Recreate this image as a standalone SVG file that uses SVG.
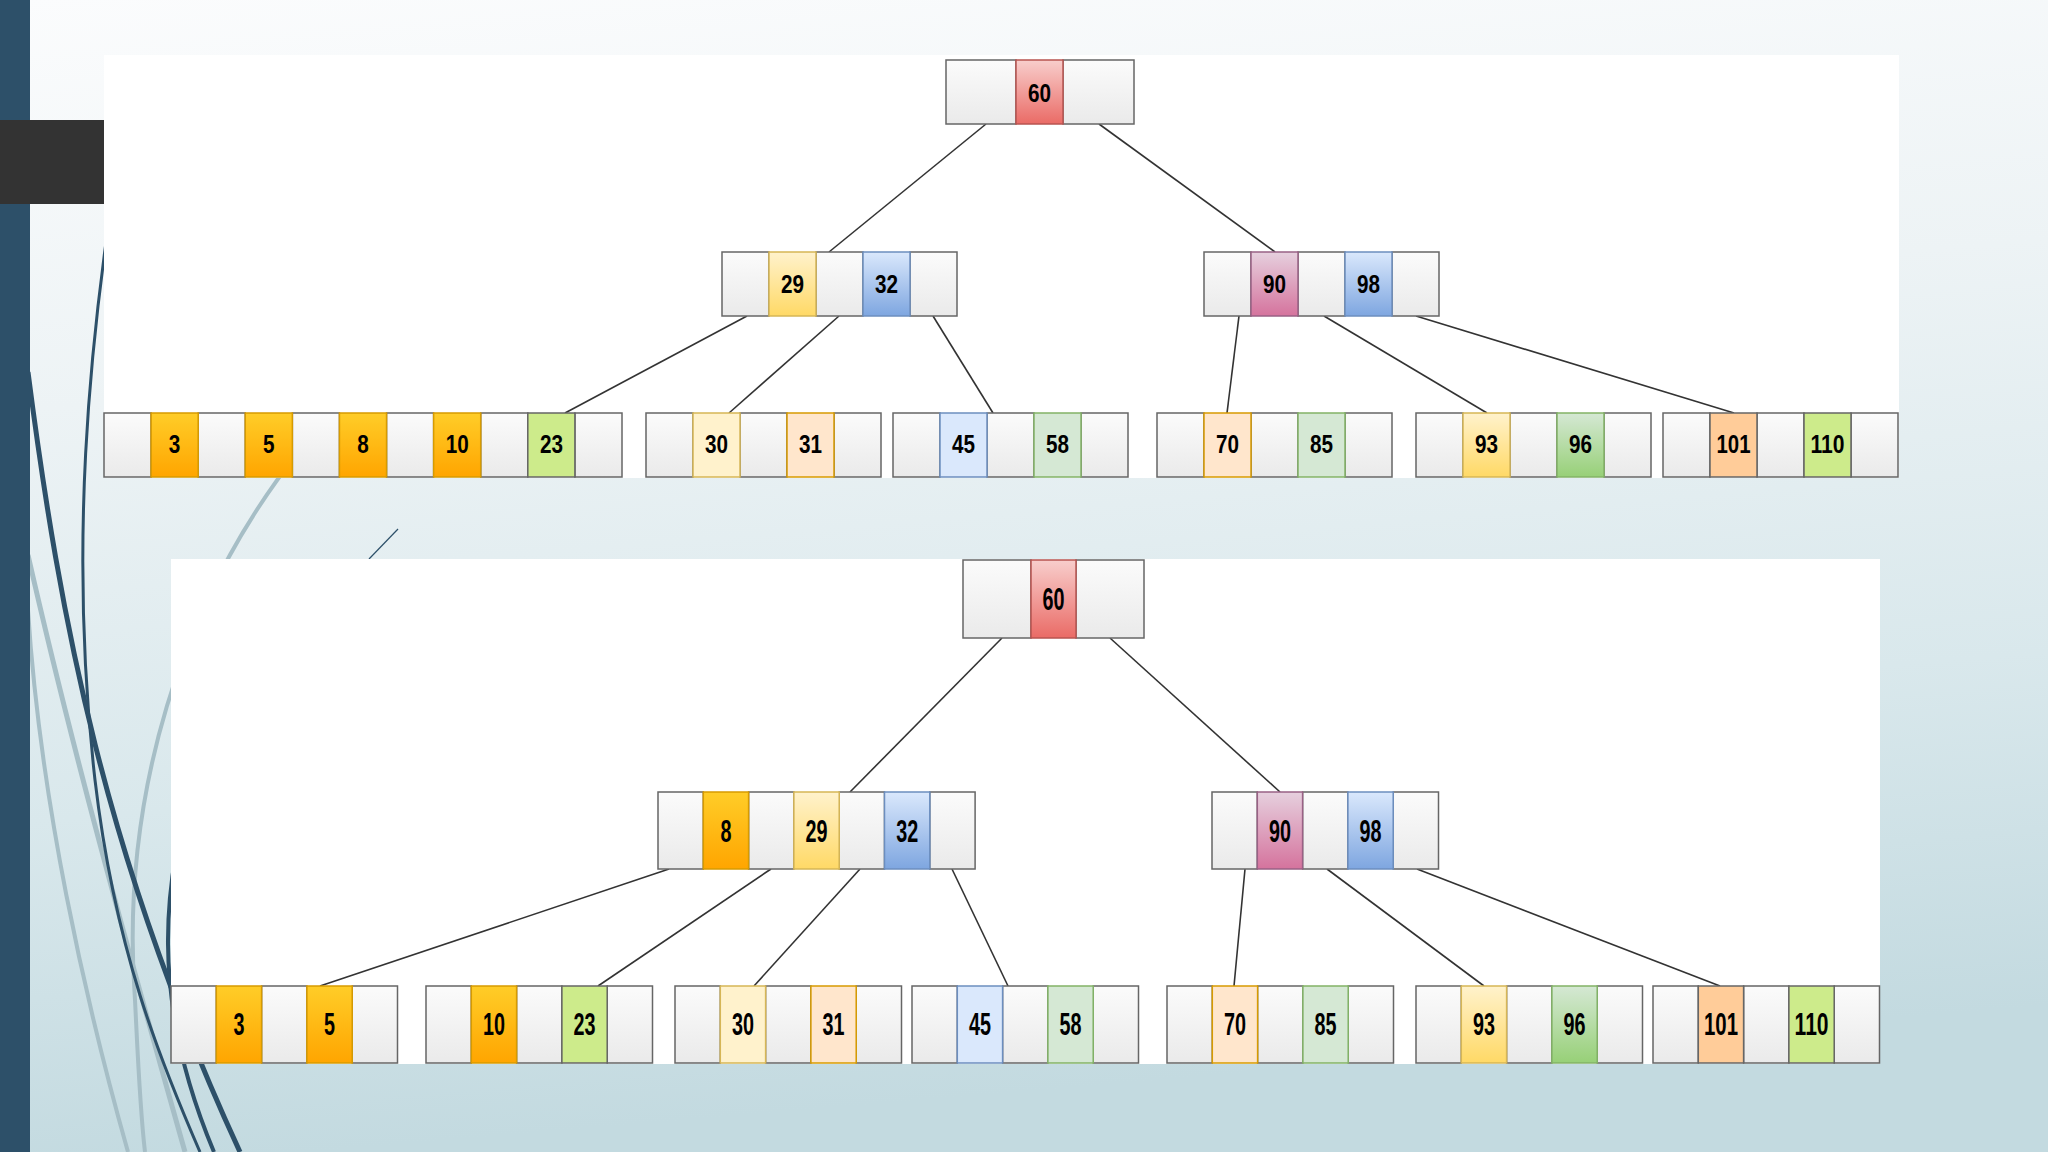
<svg xmlns="http://www.w3.org/2000/svg" width="2048" height="1152" viewBox="0 0 2048 1152">
<defs>
<linearGradient id="bg" x1="0" y1="0" x2="0.15" y2="1">
<stop offset="0" stop-color="#fbfcfd"/>
<stop offset="0.35" stop-color="#edf3f5"/>
<stop offset="0.7" stop-color="#d9e8ec"/>
<stop offset="1" stop-color="#c3dae0"/>
</linearGradient>
<linearGradient id="gE" x1="0" y1="0" x2="0" y2="1"><stop offset="0" stop-color="#fbfbfb"/><stop offset="1" stop-color="#eaeaea"/></linearGradient>
<linearGradient id="gOr" x1="0" y1="0" x2="0" y2="1"><stop offset="0" stop-color="#ffcd28"/><stop offset="1" stop-color="#ffa500"/></linearGradient>
<linearGradient id="gYe" x1="0" y1="0" x2="0" y2="1"><stop offset="0" stop-color="#fff2cc"/><stop offset="1" stop-color="#ffd966"/></linearGradient>
<linearGradient id="gBl" x1="0" y1="0" x2="0" y2="1"><stop offset="0" stop-color="#dae8fc"/><stop offset="1" stop-color="#7ea6e0"/></linearGradient>
<linearGradient id="gRd" x1="0" y1="0" x2="0" y2="1"><stop offset="0" stop-color="#f8cecc"/><stop offset="1" stop-color="#ea6b66"/></linearGradient>
<linearGradient id="gPk" x1="0" y1="0" x2="0" y2="1"><stop offset="0" stop-color="#e6d0de"/><stop offset="1" stop-color="#d5739d"/></linearGradient>
<linearGradient id="gGr" x1="0" y1="0" x2="0" y2="1"><stop offset="0" stop-color="#d5e8d4"/><stop offset="1" stop-color="#97d077"/></linearGradient>
</defs>
<style>
.e{fill:url(#gE);stroke:#666;stroke-width:1.5}
.or{fill:url(#gOr);stroke:#d79b00;stroke-width:1.5}
.ye{fill:url(#gYe);stroke:#d6b656;stroke-width:1.5}
.bl{fill:url(#gBl);stroke:#6c8ebf;stroke-width:1.5}
.rd{fill:url(#gRd);stroke:#b85450;stroke-width:1.5}
.pk{fill:url(#gPk);stroke:#996185;stroke-width:1.5}
.gg{fill:url(#gGr);stroke:#82b366;stroke-width:1.5}
.lm{fill:#cdeb8b;stroke:#666;stroke-width:1.5}
.ly{fill:#fff2cc;stroke:#d6b656;stroke-width:1.5}
.pe{fill:#ffe6cc;stroke:#d79b00;stroke-width:1.5}
.lb{fill:#dae8fc;stroke:#6c8ebf;stroke-width:1.5}
.lg{fill:#d5e8d4;stroke:#82b366;stroke-width:1.5}
.of{fill:#ffcc99;stroke:#666;stroke-width:1.5}
text{font-family:"Liberation Sans",Arial,sans-serif;font-weight:bold;fill:#000;text-anchor:middle}
.t1 text{font-size:25px}
.t2 text{font-size:31px}
#edges line{stroke:#333;stroke-width:1.6}
.dk{fill:none;stroke:#2d5069}
.lt{fill:none;stroke:#a6bec6}
</style>

<rect x="0" y="0" width="2048" height="1152" fill="url(#bg)"/>
<g id="decor">
<path class="lt" stroke-width="5" d="M28,555 C70,740 125,940 185,1152"/>
<path class="lt" stroke-width="4" d="M28,610 C40,800 85,1000 128,1152"/>
<path class="lt" stroke-width="4" d="M300,450 C180,600 120,800 135,1000 C138,1060 140,1110 145,1152"/>
<path class="dk" stroke-width="3" d="M125,120 C85,350 70,560 95,780 C115,950 160,1060 200,1152"/>
<path class="dk" stroke-width="5" d="M28,372 C60,620 105,860 240,1152"/>
<path class="dk" stroke-width="4" d="M200,760 C160,880 150,1000 214,1152"/>
<path class="dk" stroke-width="1.2" d="M369,559 L398,529"/>
</g>
<rect x="0" y="0" width="30" height="1152" fill="#2d5069"/>
<rect x="0" y="120" width="104" height="84" fill="#333333"/>
<rect x="104" y="55" width="1795" height="423" fill="#ffffff"/>
<rect x="171" y="559" width="1709" height="505" fill="#ffffff"/>

<g id="edges">
<line x1="986" y1="124" x2="829" y2="252"/>
<line x1="1099" y1="124" x2="1275" y2="252"/>
<line x1="747" y1="316" x2="565" y2="413"/>
<line x1="839" y1="316" x2="729" y2="413"/>
<line x1="933" y1="316" x2="993" y2="413"/>
<line x1="1239" y1="316" x2="1227" y2="413"/>
<line x1="1324" y1="316" x2="1487" y2="413"/>
<line x1="1416" y1="316" x2="1734" y2="413"/>
<line x1="1002" y1="638" x2="850" y2="792"/>
<line x1="1110" y1="638" x2="1280" y2="792"/>
<line x1="669" y1="869" x2="320" y2="986"/>
<line x1="771" y1="869" x2="598" y2="986"/>
<line x1="860" y1="869" x2="754" y2="986"/>
<line x1="952" y1="869" x2="1008" y2="986"/>
<line x1="1245" y1="869" x2="1234" y2="986"/>
<line x1="1327" y1="869" x2="1484" y2="986"/>
<line x1="1417" y1="869" x2="1720" y2="986"/>
</g>

<g class="t1">
<g id="t-root">
<rect class="e" x="946" y="60" width="70" height="64"/><rect class="e" x="1063" y="60" width="71" height="64"/>
<rect class="rd" x="1016" y="60" width="47" height="64"/>
<text x="1039.5" y="102" textLength="23" lengthAdjust="spacingAndGlyphs">60</text>
</g>
<g id="t-n2L">
<rect class="e" x="722" y="252" width="47" height="64"/><rect class="e" x="816" y="252" width="47" height="64"/><rect class="e" x="910" y="252" width="47" height="64"/>
<rect class="ye" x="769" y="252" width="47" height="64"/><rect class="bl" x="863" y="252" width="47" height="64"/>
<text x="792.5" y="293" textLength="23" lengthAdjust="spacingAndGlyphs">29</text><text x="886.5" y="293" textLength="23" lengthAdjust="spacingAndGlyphs">32</text>
</g>
<g id="t-n2R">
<rect class="e" x="1204" y="252" width="47" height="64"/><rect class="e" x="1298" y="252" width="47" height="64"/><rect class="e" x="1392" y="252" width="47" height="64"/>
<rect class="pk" x="1251" y="252" width="47" height="64"/><rect class="bl" x="1345" y="252" width="47" height="64"/>
<text x="1274.5" y="293" textLength="23" lengthAdjust="spacingAndGlyphs">90</text><text x="1368.5" y="293" textLength="23" lengthAdjust="spacingAndGlyphs">98</text>
</g>
<g id="t-leafA">
<rect class="e" x="104" y="413" width="47.09" height="64"/><rect class="e" x="198.18" y="413" width="47.09" height="64"/><rect class="e" x="292.36" y="413" width="47.09" height="64"/><rect class="e" x="386.54" y="413" width="47.09" height="64"/><rect class="e" x="480.72" y="413" width="47.09" height="64"/><rect class="e" x="574.9" y="413" width="47.1" height="64"/>
<rect class="or" x="151.09" y="413" width="47.09" height="64"/><rect class="or" x="245.27" y="413" width="47.09" height="64"/><rect class="or" x="339.45" y="413" width="47.09" height="64"/><rect class="or" x="433.63" y="413" width="47.09" height="64"/><rect class="lm" x="527.81" y="413" width="47.09" height="64"/>
<text x="174.6" y="453" textLength="11.5" lengthAdjust="spacingAndGlyphs">3</text><text x="268.8" y="453" textLength="11.5" lengthAdjust="spacingAndGlyphs">5</text><text x="363" y="453" textLength="11.5" lengthAdjust="spacingAndGlyphs">8</text><text x="457.2" y="453" textLength="23" lengthAdjust="spacingAndGlyphs">10</text><text x="551.4" y="453" textLength="23" lengthAdjust="spacingAndGlyphs">23</text>
</g>
<g id="t-leafB">
<rect class="e" x="646" y="413" width="47" height="64"/><rect class="e" x="740" y="413" width="47" height="64"/><rect class="e" x="834" y="413" width="47" height="64"/>
<rect class="ly" x="693" y="413" width="47" height="64"/><rect class="pe" x="787" y="413" width="47" height="64"/>
<text x="716.5" y="453" textLength="23" lengthAdjust="spacingAndGlyphs">30</text><text x="810.5" y="453" textLength="23" lengthAdjust="spacingAndGlyphs">31</text>
</g>
<g id="t-leafC">
<rect class="e" x="893" y="413" width="47" height="64"/><rect class="e" x="987" y="413" width="47" height="64"/><rect class="e" x="1081" y="413" width="47" height="64"/>
<rect class="lb" x="940" y="413" width="47" height="64"/><rect class="lg" x="1034" y="413" width="47" height="64"/>
<text x="963.5" y="453" textLength="23" lengthAdjust="spacingAndGlyphs">45</text><text x="1057.5" y="453" textLength="23" lengthAdjust="spacingAndGlyphs">58</text>
</g>
<g id="t-leafD">
<rect class="e" x="1157" y="413" width="47" height="64"/><rect class="e" x="1251" y="413" width="47" height="64"/><rect class="e" x="1345" y="413" width="47" height="64"/>
<rect class="pe" x="1204" y="413" width="47" height="64"/><rect class="lg" x="1298" y="413" width="47" height="64"/>
<text x="1227.5" y="453" textLength="23" lengthAdjust="spacingAndGlyphs">70</text><text x="1321.5" y="453" textLength="23" lengthAdjust="spacingAndGlyphs">85</text>
</g>
<g id="t-leafE">
<rect class="e" x="1416" y="413" width="47" height="64"/><rect class="e" x="1510" y="413" width="47" height="64"/><rect class="e" x="1604" y="413" width="47" height="64"/>
<rect class="ye" x="1463" y="413" width="47" height="64"/><rect class="gg" x="1557" y="413" width="47" height="64"/>
<text x="1486.5" y="453" textLength="23" lengthAdjust="spacingAndGlyphs">93</text><text x="1580.5" y="453" textLength="23" lengthAdjust="spacingAndGlyphs">96</text>
</g>
<g id="t-leafF">
<rect class="e" x="1663" y="413" width="47" height="64"/><rect class="e" x="1757" y="413" width="47" height="64"/><rect class="e" x="1851" y="413" width="47" height="64"/>
<rect class="of" x="1710" y="413" width="47" height="64"/><rect class="lm" x="1804" y="413" width="47" height="64"/>
<text x="1733.5" y="453" textLength="34" lengthAdjust="spacingAndGlyphs">101</text><text x="1827.5" y="453" textLength="34" lengthAdjust="spacingAndGlyphs">110</text>
</g>
</g>

<g class="t2">
<g id="b-root">
<rect class="e" x="963" y="560" width="68" height="78"/><rect class="e" x="1076" y="560" width="68" height="78"/>
<rect class="rd" x="1031" y="560" width="45" height="78"/>
<text x="1053.5" y="610" textLength="22" lengthAdjust="spacingAndGlyphs">60</text>
</g>
<g id="b-n2L">
<rect class="e" x="658" y="792" width="45.3" height="77"/><rect class="e" x="748.6" y="792" width="45.3" height="77"/><rect class="e" x="839.2" y="792" width="45.3" height="77"/><rect class="e" x="929.8" y="792" width="45.3" height="77"/>
<rect class="or" x="703.3" y="792" width="45.3" height="77"/><rect class="ye" x="793.9" y="792" width="45.3" height="77"/><rect class="bl" x="884.5" y="792" width="45.3" height="77"/>
<text x="726" y="842" textLength="11" lengthAdjust="spacingAndGlyphs">8</text><text x="816.6" y="842" textLength="22" lengthAdjust="spacingAndGlyphs">29</text><text x="907.2" y="842" textLength="22" lengthAdjust="spacingAndGlyphs">32</text>
</g>
<g id="b-n2R">
<rect class="e" x="1212" y="792" width="45.3" height="77"/><rect class="e" x="1302.6" y="792" width="45.3" height="77"/><rect class="e" x="1393.2" y="792" width="45.3" height="77"/>
<rect class="pk" x="1257.3" y="792" width="45.3" height="77"/><rect class="bl" x="1347.9" y="792" width="45.3" height="77"/>
<text x="1280" y="842" textLength="22" lengthAdjust="spacingAndGlyphs">90</text><text x="1370.6" y="842" textLength="22" lengthAdjust="spacingAndGlyphs">98</text>
</g>
<g id="b-leafG">
<rect class="e" x="171" y="986" width="45.3" height="77"/><rect class="e" x="261.6" y="986" width="45.3" height="77"/><rect class="e" x="352.2" y="986" width="45.3" height="77"/>
<rect class="or" x="216.3" y="986" width="45.3" height="77"/><rect class="or" x="306.9" y="986" width="45.3" height="77"/>
<text x="239" y="1035" textLength="11" lengthAdjust="spacingAndGlyphs">3</text><text x="329.6" y="1035" textLength="11" lengthAdjust="spacingAndGlyphs">5</text>
</g>
<g id="b-leafH">
<rect class="e" x="426" y="986" width="45.3" height="77"/><rect class="e" x="516.6" y="986" width="45.3" height="77"/><rect class="e" x="607.2" y="986" width="45.3" height="77"/>
<rect class="or" x="471.3" y="986" width="45.3" height="77"/><rect class="lm" x="561.9" y="986" width="45.3" height="77"/>
<text x="494" y="1035" textLength="22" lengthAdjust="spacingAndGlyphs">10</text><text x="584.6" y="1035" textLength="22" lengthAdjust="spacingAndGlyphs">23</text>
</g>
<g id="b-leafI">
<rect class="e" x="675" y="986" width="45.3" height="77"/><rect class="e" x="765.6" y="986" width="45.3" height="77"/><rect class="e" x="856.2" y="986" width="45.3" height="77"/>
<rect class="ly" x="720.3" y="986" width="45.3" height="77"/><rect class="pe" x="810.9" y="986" width="45.3" height="77"/>
<text x="743" y="1035" textLength="22" lengthAdjust="spacingAndGlyphs">30</text><text x="833.6" y="1035" textLength="22" lengthAdjust="spacingAndGlyphs">31</text>
</g>
<g id="b-leafJ">
<rect class="e" x="912" y="986" width="45.3" height="77"/><rect class="e" x="1002.6" y="986" width="45.3" height="77"/><rect class="e" x="1093.2" y="986" width="45.3" height="77"/>
<rect class="lb" x="957.3" y="986" width="45.3" height="77"/><rect class="lg" x="1047.9" y="986" width="45.3" height="77"/>
<text x="980" y="1035" textLength="22" lengthAdjust="spacingAndGlyphs">45</text><text x="1070.6" y="1035" textLength="22" lengthAdjust="spacingAndGlyphs">58</text>
</g>
<g id="b-leafK">
<rect class="e" x="1167" y="986" width="45.3" height="77"/><rect class="e" x="1257.6" y="986" width="45.3" height="77"/><rect class="e" x="1348.2" y="986" width="45.3" height="77"/>
<rect class="pe" x="1212.3" y="986" width="45.3" height="77"/><rect class="lg" x="1302.9" y="986" width="45.3" height="77"/>
<text x="1235" y="1035" textLength="22" lengthAdjust="spacingAndGlyphs">70</text><text x="1325.6" y="1035" textLength="22" lengthAdjust="spacingAndGlyphs">85</text>
</g>
<g id="b-leafL">
<rect class="e" x="1416" y="986" width="45.3" height="77"/><rect class="e" x="1506.6" y="986" width="45.3" height="77"/><rect class="e" x="1597.2" y="986" width="45.3" height="77"/>
<rect class="ye" x="1461.3" y="986" width="45.3" height="77"/><rect class="gg" x="1551.9" y="986" width="45.3" height="77"/>
<text x="1484" y="1035" textLength="22" lengthAdjust="spacingAndGlyphs">93</text><text x="1574.6" y="1035" textLength="22" lengthAdjust="spacingAndGlyphs">96</text>
</g>
<g id="b-leafM">
<rect class="e" x="1653" y="986" width="45.3" height="77"/><rect class="e" x="1743.6" y="986" width="45.3" height="77"/><rect class="e" x="1834.2" y="986" width="45.3" height="77"/>
<rect class="of" x="1698.3" y="986" width="45.3" height="77"/><rect class="lm" x="1788.9" y="986" width="45.3" height="77"/>
<text x="1721" y="1035" textLength="34" lengthAdjust="spacingAndGlyphs">101</text><text x="1811.6" y="1035" textLength="34" lengthAdjust="spacingAndGlyphs">110</text>
</g>
</g>
</svg>
